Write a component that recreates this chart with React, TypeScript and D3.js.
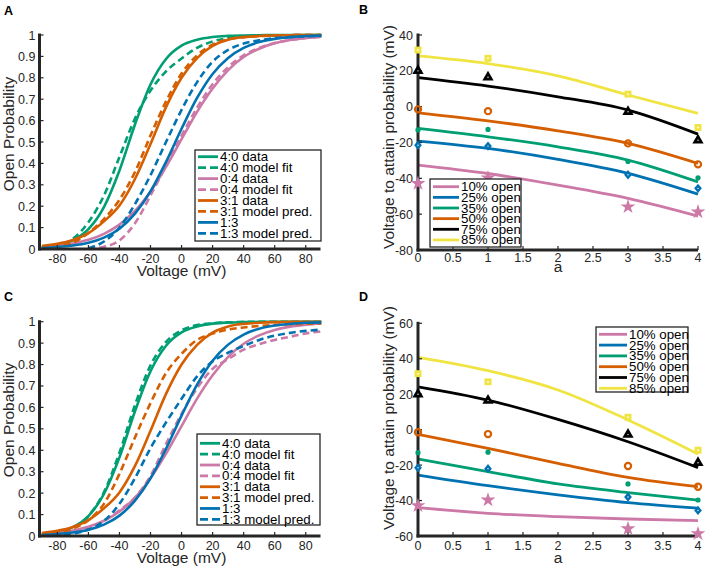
import React from 'react';
import * as d3 from 'd3';

// ---------- Panels A & C: open probability vs voltage ----------
const voltages = [-90, -80, -70, -60, -50, -40, -30, -20, -10, 0, 10, 20, 30, 40, 50, 60, 70, 80, 90];

// data curves (same in A and C)
const data40 = [0.008, 0.018, 0.041, 0.093, 0.196, 0.367, 0.582, 0.769, 0.888, 0.95, 0.978, 0.991, 0.996, 0.998, 0.999, 1.0, 1.0, 1.0, 1.0];
const data04 = [0.009, 0.015, 0.026, 0.043, 0.071, 0.114, 0.178, 0.269, 0.384, 0.513, 0.641, 0.75, 0.836, 0.897, 0.936, 0.961, 0.977, 0.986, 0.992];
const data31 = [0.014, 0.024, 0.042, 0.074, 0.129, 0.203, 0.327, 0.491, 0.663, 0.8, 0.892, 0.949, 0.978, 0.99, 0.995, 0.998, 0.999, 1.0, 1.0];
const data13 = [0.005, 0.009, 0.016, 0.029, 0.053, 0.095, 0.165, 0.269, 0.407, 0.562, 0.706, 0.818, 0.893, 0.94, 0.967, 0.982, 0.99, 0.995, 0.997];

// panel A model curves
const fit40A = [0.006, 0.017, 0.048, 0.125, 0.25, 0.43, 0.61, 0.74, 0.83, 0.89, 0.94, 0.97, 0.985, 0.993, 0.996, 0.998, 0.999, 1.0, 1.0];
const fit04A = [null, null, null, 0.0, 0.01, 0.04, 0.12, 0.25, 0.39, 0.53, 0.66, 0.77, 0.85, 0.905, 0.94, 0.963, 0.977, 0.986, 0.991];
const pred31A = [0.005, 0.012, 0.03, 0.075, 0.14, 0.23, 0.36, 0.53, 0.69, 0.82, 0.905, 0.955, 0.98, 0.99, 0.995, 0.998, 0.999, 1.0, 1.0];
const pred13A = [null, null, null, 0.003, 0.035, 0.1, 0.21, 0.345, 0.5, 0.65, 0.78, 0.875, 0.93, 0.96, 0.975, 0.985, 0.99, 0.994, 0.996];

// panel C model curves
const fit40C = [0.007, 0.016, 0.04, 0.094, 0.204, 0.389, 0.611, 0.796, 0.906, 0.96, 0.984, 0.993, 0.997, 0.999, 1.0, 1.0, 1.0, 1.0, 1.0];
const fit04C = [0.002, 0.006, 0.015, 0.035, 0.07, 0.12, 0.18, 0.28, 0.43, 0.57, 0.69, 0.78, 0.825, 0.87, 0.895, 0.915, 0.93, 0.945, 0.955];
const pred31C = [0.007, 0.016, 0.035, 0.074, 0.15, 0.29, 0.46, 0.62, 0.76, 0.85, 0.915, 0.945, 0.963, 0.973, 0.98, 0.985, 0.988, 0.99, 0.992];
const pred13C = [0.002, 0.005, 0.012, 0.03, 0.07, 0.15, 0.27, 0.41, 0.53, 0.64, 0.745, 0.815, 0.855, 0.887, 0.915, 0.935, 0.948, 0.957, 0.963];

const legendAC = ['4:0 data', '4:0 model fit', '0:4 data', '0:4 model fit', '3:1 data', '3:1 model pred.', '1:3', '1:3 model pred.'];
const probTicks = [0, 0.1, 0.2, 0.3, 0.4, 0.5, 0.6, 0.7, 0.8, 0.9, 1];
const voltTicks = [-80, -60, -40, -20, 0, 20, 40, 60, 80];

// ---------- Panels B & D: voltage to attain probability vs a ----------
const aMarks = [0, 1, 3, 4];
const aLine = [0, 1, 2, 3, 4];
const levelLabels = ['10% open', '25% open', '35% open', '50% open', '75% open', '85% open'];

const mark10 = [-42.9, -39.7, -55.9, -58.7];
const mark25 = [-21.5, -22.0, -38.0, -45.6];
const mark35 = [-13.0, -12.7, -30.6, -39.7];
const mark50 = [-1.5, -2.5, -20.5, -32.2];
const mark75 = [20.0, 16.4, -2.8, -18.7];
const mark85 = [31.6, 27.0, 7.0, -11.6];

const lineB10 = [-32.6, -37.3, -43.8, -51.2, -61.1];
const lineB25 = [-19.2, -23.3, -29.4, -37.2, -48.8];
const lineB35 = [-12.1, -16.8, -22.4, -29.8, -42.0];
const lineB50 = [-3.4, -7.9, -13.5, -20.5, -31.7];
const lineB75 = [16.2, 11.5, 5.5, -1.9, -15.3];
const lineB85 = [28.3, 24.0, 17.2, 6.5, -3.7];

const lineD10 = [-44.0, -47.2, -49.1, -50.4, -51.3];
const lineD25 = [-25.6, -31.6, -36.8, -41.2, -44.3];
const lineD35 = [-16.5, -23.7, -30.6, -35.5, -39.7];
const lineD50 = [-2.6, -10.5, -19.0, -26.9, -32.2];
const lineD75 = [24.2, 16.7, 5.8, -6.8, -21.4];
const lineD85 = [40.8, 33.3, 22.4, 5.5, -13.7];

const aTicks = [0, 0.5, 1, 1.5, 2, 2.5, 3, 3.5, 4];
const vTicksB = [-80, -60, -40, -20, 0, 20, 40];
const vTicksD = [-60, -40, -20, 0, 20, 40, 60];

const GREEN = '#009E73';
const PINK = '#CC79A7';
const ORANGE = '#D55E00';
const BLUE = '#0072B2';
const BLACK = '#000000';
const YELLOW = '#F0E442';
const AX = '#262626';
const FONT = "'Liberation Sans', Arial, Helvetica, sans-serif";

type Curve = { values: (number | null)[]; color: string; dashed: boolean };

function SigmoidPanel(props: {
  top: number; bottom: number; curves: Curve[];
  legend: { x0: number; x1: number; y0: number; y1: number; first: number; step: number };
  yLabelY: number; letter: string; letterY: number;
}) {
  const { top, bottom, curves, legend, yLabelY, letter, letterY } = props;
  const x = d3.scaleLinear().domain([-91.5, 89.5]).range([39.5, 320.5]);
  const y = d3.scaleLinear().domain([0, 1]).range([bottom, top]);
  const line = d3.line<[number, number | null]>()
    .defined(d => d[1] != null)
    .x(d => x(d[0]))
    .y(d => y(d[1] as number))
    .curve(d3.curveMonotoneX);
  const axL = x.range()[0];
  return (
    <g>
      <text x={4} y={letterY} fontSize={12.5} fontWeight="bold" fill="#000" fontFamily={FONT}>{letter}</text>
      {curves.map((c, i) => (
        <path key={i} d={line(voltages.map((v, j) => [v, c.values[j]] as [number, number | null])) || ''}
          fill="none" stroke={c.color} strokeWidth={2.6} strokeDasharray={c.dashed ? '7,4' : undefined} />
      ))}
      {/* axes */}
      <line x1={axL} x2={axL} y1={top - 1.5} y2={bottom + 1.5} stroke={AX} strokeWidth={3} />
      <line x1={axL - 1.5} x2={x.range()[1]} y1={bottom} y2={bottom} stroke={AX} strokeWidth={3} />
      {probTicks.map(t => (
        <g key={'y' + t}>
          <line x1={axL} x2={axL + 4} y1={y(t)} y2={y(t)} stroke={AX} strokeWidth={1.2} />
          <text x={axL - 4} y={y(t) + 4.5} textAnchor="end" fontSize={12.5} fill={AX} fontFamily={FONT}>{String(t)}</text>
        </g>
      ))}
      {voltTicks.map(t => (
        <g key={'x' + t}>
          <line x1={x(t)} x2={x(t)} y1={bottom} y2={bottom - 4} stroke={AX} strokeWidth={1.2} />
          <text x={x(t)} y={bottom + 13.5} textAnchor="middle" fontSize={12.5} fill={AX} fontFamily={FONT}>{String(t)}</text>
        </g>
      ))}
      <text x={x(0)} y={bottom + 26.5} textAnchor="middle" fontSize={15.5} fill={AX} fontFamily={FONT}>Voltage (mV)</text>
      <text transform={`translate(14,${yLabelY}) rotate(-90)`} textAnchor="middle" fontSize={15.5} fill={AX} fontFamily={FONT}>Open Probability</text>
      {/* legend */}
      <rect x={legend.x0} y={legend.y0} width={legend.x1 - legend.x0} height={legend.y1 - legend.y0} fill="#fff" stroke={AX} strokeWidth={1.3} />
      {curves.map((c, i) => {
        const ly = legend.first + i * legend.step;
        return (
          <g key={'l' + i}>
            <line x1={legend.x0 + 3} x2={legend.x0 + 23} y1={ly} y2={ly} stroke={c.color} strokeWidth={2.8}
              strokeDasharray={c.dashed ? '8,4' : undefined} />
            <text x={legend.x0 + 25} y={ly + 4.5} fontSize={13.3} fill="#000" fontFamily={FONT}>{legendAC[i]}</text>
          </g>
        );
      })}
    </g>
  );
}

type Level = { line: number[]; marks: number[]; color: string; marker: string };

function Marker({ kind, cx, cy, color }: { kind: string; cx: number; cy: number; color: string }) {
  if (kind === 'star') {
    return <path d={d3.symbol().type(d3.symbolStar).size(68)() || ''} transform={`translate(${cx},${cy})`} fill={color} />;
  }
  if (kind === 'diamond') {
    return (
      <g transform={`translate(${cx},${cy})`}>
        <path d={d3.symbol().type(d3.symbolDiamond2).size(38)() || ''} transform="scale(1,1.2)" fill={color} />
        <circle r={0.7} fill="#fff" />
      </g>
    );
  }
  if (kind === 'dot') {
    return <circle cx={cx} cy={cy} r={2.6} fill={color} />;
  }
  if (kind === 'circle') {
    return <circle cx={cx} cy={cy} r={3.1} fill="none" stroke={color} strokeWidth={2.2} />;
  }
  if (kind === 'triangle') {
    return (
      <g transform={`translate(${cx},${cy})`}>
        <path d={d3.symbol().type(d3.symbolTriangle).size(55)() || ''} fill={color} />
        <circle r={0.7} fill="#fff" />
      </g>
    );
  }
  return (
    <g transform={`translate(${cx},${cy})`}>
      <path d={d3.symbol().type(d3.symbolSquare).size(48)() || ''} fill={color} />
      <circle r={1} fill="#fffbe0" />
    </g>
  );
}

function ThresholdPanel(props: {
  top: number; bottom: number; domain: [number, number]; vTicks: number[]; levels: Level[];
  legend: { x0: number; x1: number; y0: number; y1: number; first: number; step: number; lineLen: number };
  yLabelY: number; letter: string; letterY: number; tickBase: number; aBase: number;
}) {
  const { top, bottom, domain, vTicks, levels, legend, yLabelY, letter, letterY, tickBase, aBase } = props;
  const x = d3.scaleLinear().domain([0, 4]).range([418, 698]);
  const y = d3.scaleLinear().domain(domain).range([bottom, top]);
  const line = d3.line<[number, number]>().x(d => x(d[0])).y(d => y(d[1])).curve(d3.curveMonotoneX);
  const axL = 418;
  return (
    <g>
      <text x={359} y={letterY} fontSize={12.5} fontWeight="bold" fill="#000" fontFamily={FONT}>{letter}</text>
      {levels.map((lv, i) => (
        <path key={'ln' + i} d={line(aLine.map((a, j) => [a, lv.line[j]] as [number, number])) || ''}
          fill="none" stroke={lv.color} strokeWidth={2.8} />
      ))}
      <line x1={axL} x2={axL} y1={top - 1.5} y2={bottom + 1.5} stroke={AX} strokeWidth={3} />
      <line x1={axL - 1.5} x2={698} y1={bottom} y2={bottom} stroke={AX} strokeWidth={3} />
      {vTicks.map(t => (
        <g key={'y' + t}>
          <line x1={axL} x2={axL + 4} y1={y(t)} y2={y(t)} stroke={AX} strokeWidth={1.2} />
          <text x={axL - 5} y={y(t) + 4.5} textAnchor="end" fontSize={12.5} fill={AX} fontFamily={FONT}>{String(t)}</text>
        </g>
      ))}
      {aTicks.map(t => (
        <g key={'x' + t}>
          <line x1={x(t)} x2={x(t)} y1={bottom} y2={bottom - 4} stroke={AX} strokeWidth={1.2} />
          <text x={x(t)} y={tickBase} textAnchor="middle" fontSize={12.5} fill={AX} fontFamily={FONT}>{String(t)}</text>
        </g>
      ))}
      <text x={x(2)} y={aBase} textAnchor="middle" fontSize={15.5} fill={AX} fontFamily={FONT}>a</text>
      <text transform={`translate(393.5,${yLabelY}) rotate(-90)`} textAnchor="middle" fontSize={15.5} fill={AX} fontFamily={FONT}>Voltage to attain probability (mV)</text>
      {levels.map((lv, i) => (
        <g key={'m' + i}>
          {aMarks.map((a, j) => (
            <Marker key={j} kind={lv.marker} cx={x(a)} cy={y(lv.marks[j])} color={lv.color} />
          ))}
        </g>
      ))}
      <rect x={legend.x0} y={legend.y0} width={legend.x1 - legend.x0} height={legend.y1 - legend.y0} fill="#fff" stroke={AX} strokeWidth={1.3} />
      {levels.map((lv, i) => {
        const ly = legend.first + i * legend.step;
        return (
          <g key={'l' + i}>
            <line x1={legend.x0 + 3} x2={legend.x0 + 3 + legend.lineLen} y1={ly} y2={ly} stroke={lv.color} strokeWidth={2.8} />
            <text x={legend.x0 + 5 + legend.lineLen} y={ly + 4.5} fontSize={13.3} fill="#000" fontFamily={FONT}>{levelLabels[i]}</text>
          </g>
        );
      })}
    </g>
  );
}

export default function App() {
  const curvesA: Curve[] = [
    { values: data40, color: GREEN, dashed: false },
    { values: fit40A, color: GREEN, dashed: true },
    { values: data04, color: PINK, dashed: false },
    { values: fit04A, color: PINK, dashed: true },
    { values: data31, color: ORANGE, dashed: false },
    { values: pred31A, color: ORANGE, dashed: true },
    { values: data13, color: BLUE, dashed: false },
    { values: pred13A, color: BLUE, dashed: true },
  ];
  const curvesC: Curve[] = [
    { values: data40, color: GREEN, dashed: false },
    { values: fit40C, color: GREEN, dashed: true },
    { values: data04, color: PINK, dashed: false },
    { values: fit04C, color: PINK, dashed: true },
    { values: data31, color: ORANGE, dashed: false },
    { values: pred31C, color: ORANGE, dashed: true },
    { values: data13, color: BLUE, dashed: false },
    { values: pred13C, color: BLUE, dashed: true },
  ];
  const markerKinds = ['star', 'diamond', 'dot', 'circle', 'triangle', 'square'];
  const colors = [PINK, BLUE, GREEN, ORANGE, BLACK, YELLOW];
  const marks = [mark10, mark25, mark35, mark50, mark75, mark85];
  const linesB = [lineB10, lineB25, lineB35, lineB50, lineB75, lineB85];
  const linesD = [lineD10, lineD25, lineD35, lineD50, lineD75, lineD85];
  const levelsB: Level[] = linesB.map((l, i) => ({ line: l, marks: marks[i], color: colors[i], marker: markerKinds[i] }));
  const levelsD: Level[] = linesD.map((l, i) => ({ line: l, marks: marks[i], color: colors[i], marker: markerKinds[i] }));

  return (
    <svg width={708} height={567} style={{ position: 'absolute', left: 0, top: 0, background: '#fff' }}>
      <rect x={0} y={0} width={708} height={567} fill="#fff" />
      <SigmoidPanel top={35} bottom={249} curves={curvesA}
        legend={{ x0: 195, x1: 321, y0: 150, y1: 241, first: 156.7, step: 10.95 }}
        yLabelY={134} letter="A" letterY={15} />
      <SigmoidPanel top={321.7} bottom={536} curves={curvesC}
        legend={{ x0: 197, x1: 320, y0: 434, y1: 525, first: 443.3, step: 10.86 }}
        yLabelY={420} letter="C" letterY={301} />
      <ThresholdPanel top={35} bottom={250} domain={[-80, 40]} vTicks={vTicksB} levels={levelsB}
        legend={{ x0: 430, x1: 521, y0: 179, y1: 247, first: 186.7, step: 10.65, lineLen: 26 }}
        yLabelY={137} letter="B" letterY={14} tickBase={262} aBase={272} />
      <ThresholdPanel top={323.3} bottom={536} domain={[-60, 60]} vTicks={vTicksD} levels={levelsD}
        legend={{ x0: 596, x1: 688, y0: 327, y1: 392, first: 334.3, step: 10.8, lineLen: 28 }}
        yLabelY={418} letter="D" letterY={301} tickBase={550} aBase={562.5} />
    </svg>
  );
}
